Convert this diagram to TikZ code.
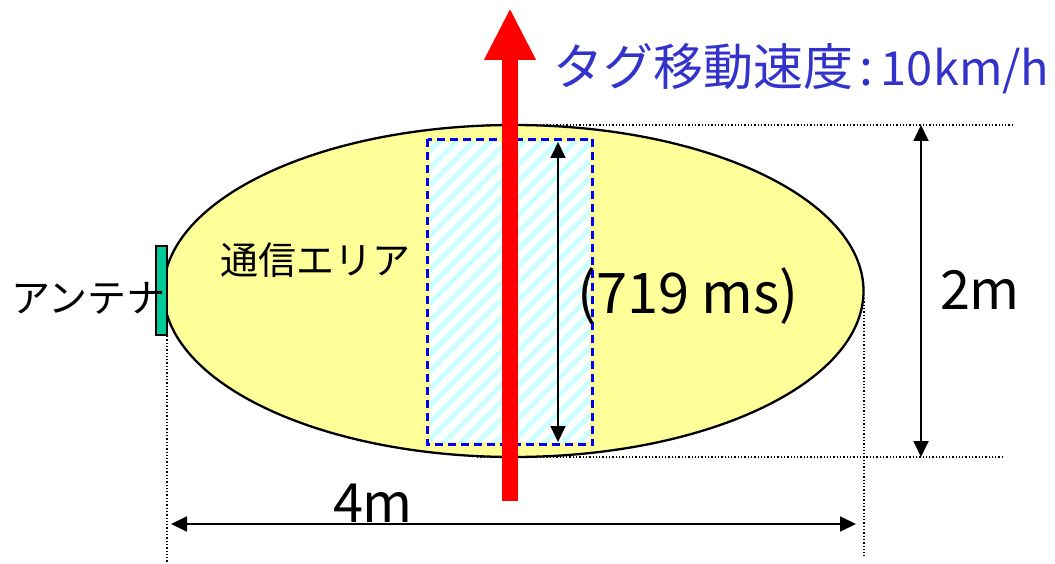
\documentclass[tikz,border=0pt]{standalone}
\usepackage{fontspec}
\setmainfont{Noto Sans CJK JP}
\usetikzlibrary{arrows.meta,shapes.geometric,patterns.meta}
\definecolor{areafill}{HTML}{FFFF99}
\definecolor{antgreen}{HTML}{00CC99}
\definecolor{hatchcyan}{HTML}{CCFFFF}
\definecolor{speedblue}{HTML}{3333CC}
\definecolor{dashblue}{HTML}{0000FF}
\begin{document}
\begin{tikzpicture}[x=1pt,y=-1pt,
  dimline/.style={line width=1.8pt, {Triangle[width=15pt,length=16pt]}-{Triangle[width=15pt,length=16pt]}},
  guide/.style={dotted, line width=1.3pt},
  lbl/.style={inner sep=0pt, outer sep=0pt}]
\useasboundingbox (0,0) rectangle (1055,564);
% communication area
\node[ellipse, draw, line width=2.3pt, fill=areafill, minimum width=700pt, minimum height=332pt, inner sep=0pt, outer sep=0pt] (area) at (513.5,291) {};
% guide lines
\coordinate (gt1) at (487,125); \coordinate (gt2) at (1012,125);
\coordinate (gb1) at (477,457); \coordinate (gb2) at (1003,457);
\coordinate (gl1) at (167,336); \coordinate (gl2) at (167,564);
\coordinate (gr1) at (864,298); \coordinate (gr2) at (864,556);
\draw[guide] (gt1) -- (gt2);
\draw[guide] (gb1) -- (gb2);
\draw[guide] (gl1) -- (gl2);
\draw[guide] (gr1) -- (gr2);
% antenna
\node[draw, line width=1.2pt, fill=antgreen, minimum width=11pt, minimum height=89pt, inner sep=0pt] (ant) at (161.5,290.5) {};
% hatched zone
\node[preaction={fill=white},
      pattern={Lines[angle=45,distance=12pt,line width=5pt]}, pattern color=hatchcyan,
      minimum width=160pt, minimum height=300pt, inner sep=0pt] (zone) at (510,292) {};
\draw[dashblue, line width=2.2pt, dash pattern=on 8pt off 5pt] (zone.north west) rectangle (zone.south east);
% red motion arrow
\coordinate (rb) at (510,501); \coordinate (rt) at (510,8);
\draw[red, line width=16pt, -{Triangle[width=48pt,length=52pt]}] (rb) -- (rt);
% inner time arrow
\coordinate (it) at (558,142); \coordinate (ib) at (558,442);
\draw[dimline] (it) -- (ib);
% 2m dimension
\coordinate (ht) at (921,125); \coordinate (hb) at (921,457);
\draw[dimline] (ht) -- (hb);
% 4m dimension
\coordinate (wl) at (171,524); \coordinate (wr) at (856,524);
\draw[dimline] (wl) -- (wr);
% texts
\node[lbl, text=speedblue, font=\fontsize{50}{60}\selectfont, anchor=base west] (speed) at (553,86) {タグ移動速度\hspace{6pt}:\hspace{8pt}{\fontsize{47}{56}\selectfont 10km/h}};
\node[lbl, font=\fontsize{38}{46}\selectfont, anchor=west] (areaname) at (220,260) {通信エリア};
\node[lbl, font=\fontsize{39}{46}\selectfont, anchor=west] (antlbl) at (11,298) {アンテナ};
\node[lbl, font=\fontsize{56}{66}\selectfont, anchor=base] (time) at (688,313) {(719 ms)};
\node[lbl, font=\fontsize{54}{64}\selectfont] (h2m) at (980,290) {2m};
\node[lbl, font=\fontsize{54}{64}\selectfont] (w4m) at (373,503) {4m};
\end{tikzpicture}
\end{document}
